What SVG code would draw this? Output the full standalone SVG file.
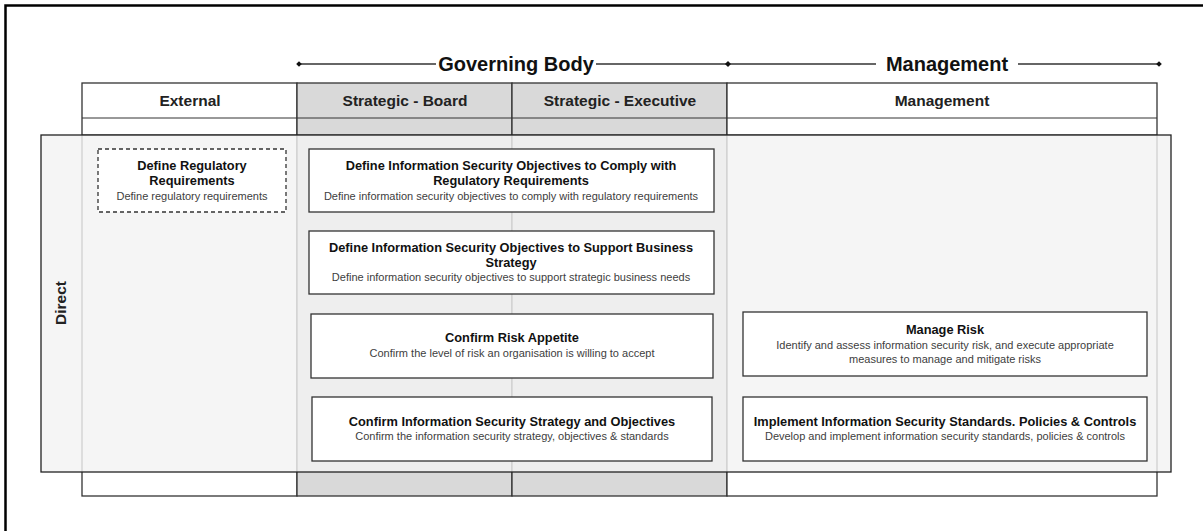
<svg xmlns="http://www.w3.org/2000/svg" width="1203" height="531" viewBox="0 0 1203 531">
<style>
.frame{fill:none;stroke:#000;stroke-width:2.5}
.cell{stroke:#333;stroke-width:1.3}
.w{fill:#fff}
.g{fill:#d9d9d9}
.ln{stroke:#333;stroke-width:1.3;fill:none}
.hl{stroke:#333;stroke-width:1}
.band{fill:#f3f3f3;fill-opacity:.82;stroke:#222;stroke-width:1.3}
.node{fill:#fff;stroke:#333;stroke-width:1.3}
.dash{fill:#fff;stroke:#333;stroke-width:1.3;stroke-dasharray:4 3}
text{font-family:"Liberation Sans",Arial,sans-serif;text-anchor:middle}
.big{font-size:20px;font-weight:bold;fill:#111}
.hdr{font-size:15.5px;font-weight:bold;fill:#222}
.t{font-size:12.8px;font-weight:bold;fill:#111}
.s{font-size:11px;fill:#404040}
</style>
<defs>
<marker id="dia" viewBox="-5 -5 10 10" markerWidth="7" markerHeight="7" markerUnits="userSpaceOnUse" refX="0" refY="0"><path d="M0,-4L4,0L0,4L-4,0Z" fill="#111"/></marker>
</defs>
<g id="frame">
<path class="frame" d="M5.5,531V5.5H1203"/>
</g>
<g id="table">
<rect class="cell w" x="82" y="83" width="215" height="413"/>
<rect class="cell g" x="297" y="83" width="215" height="413"/>
<rect class="cell g" x="512" y="83" width="215" height="413"/>
<rect class="cell w" x="727" y="83" width="430" height="413"/>
<line class="hl" x1="82" y1="118" x2="1157" y2="118"/>
<line class="hl" x1="82" y1="135" x2="1157" y2="135"/>
<text class="hdr" x="190" y="106">External</text>
<text class="hdr" x="405" y="106">Strategic - Board</text>
<text class="hdr" x="620" y="106">Strategic - Executive</text>
<text class="hdr" x="942" y="106">Management</text>
</g>
<g id="band">
<rect class="band" x="41" y="135" width="1130" height="337"/>
<text class="hdr" transform="translate(66,303) rotate(-90)">Direct</text>
</g>
<g id="connectors">
<line class="ln" x1="299" y1="64" x2="728" y2="64" marker-start="url(#dia)" marker-end="url(#dia)"/>
<line class="ln" x1="728" y1="64" x2="1159" y2="64" marker-start="url(#dia)" marker-end="url(#dia)"/>
</g>
<g id="governing-body">
<rect x="436" y="46" width="160" height="36" fill="#fff"/>
<text class="big" x="516" y="71">Governing Body</text>
</g>
<g id="management-top">
<rect x="876" y="46" width="142" height="36" fill="#fff"/>
<text class="big" x="947" y="71" font-size="21">Management</text>
</g>
<g id="n-define-reg">
<rect class="dash" x="98" y="149" width="188" height="63"/>
<text class="t" x="192" y="170">Define Regulatory</text>
<text class="t" x="192" y="185">Requirements</text>
<text class="s" x="192" y="199.5">Define regulatory requirements</text>
</g>
<g id="n-comply">
<rect class="node" x="309" y="149" width="405" height="63"/>
<text class="t" x="511" y="170">Define Information Security Objectives to Comply with</text>
<text class="t" x="511" y="185">Regulatory Requirements</text>
<text class="s" x="511" y="200">Define information security objectives to comply with regulatory requirements</text>
</g>
<g id="n-support">
<rect class="node" x="309" y="231" width="405" height="63"/>
<text class="t" x="511" y="252">Define Information Security Objectives to Support Business</text>
<text class="t" x="511" y="267">Strategy</text>
<text class="s" x="511" y="281">Define information security objectives to support strategic business needs</text>
</g>
<g id="n-risk-appetite">
<rect class="node" x="311" y="314" width="402" height="64"/>
<text class="t" x="512" y="342">Confirm Risk Appetite</text>
<text class="s" x="512" y="357">Confirm the level of risk an organisation is willing to accept</text>
</g>
<g id="n-strategy">
<rect class="node" x="312" y="397" width="400" height="64"/>
<text class="t" x="512" y="426">Confirm Information Security Strategy and Objectives</text>
<text class="s" x="512" y="440">Confirm the information security strategy, objectives &amp; standards</text>
</g>
<g id="n-manage-risk">
<rect class="node" x="743" y="312" width="404" height="64"/>
<text class="t" x="945" y="334">Manage Risk</text>
<text class="s" x="945" y="349">Identify and assess information security risk, and execute appropriate</text>
<text class="s" x="945" y="363">measures to manage and mitigate risks</text>
</g>
<g id="n-implement">
<rect class="node" x="743" y="397" width="404" height="64"/>
<text class="t" x="945" y="426">Implement Information Security Standards. Policies &amp; Controls</text>
<text class="s" x="945" y="440">Develop and implement information security standards, policies &amp; controls</text>
</g>
</svg>
